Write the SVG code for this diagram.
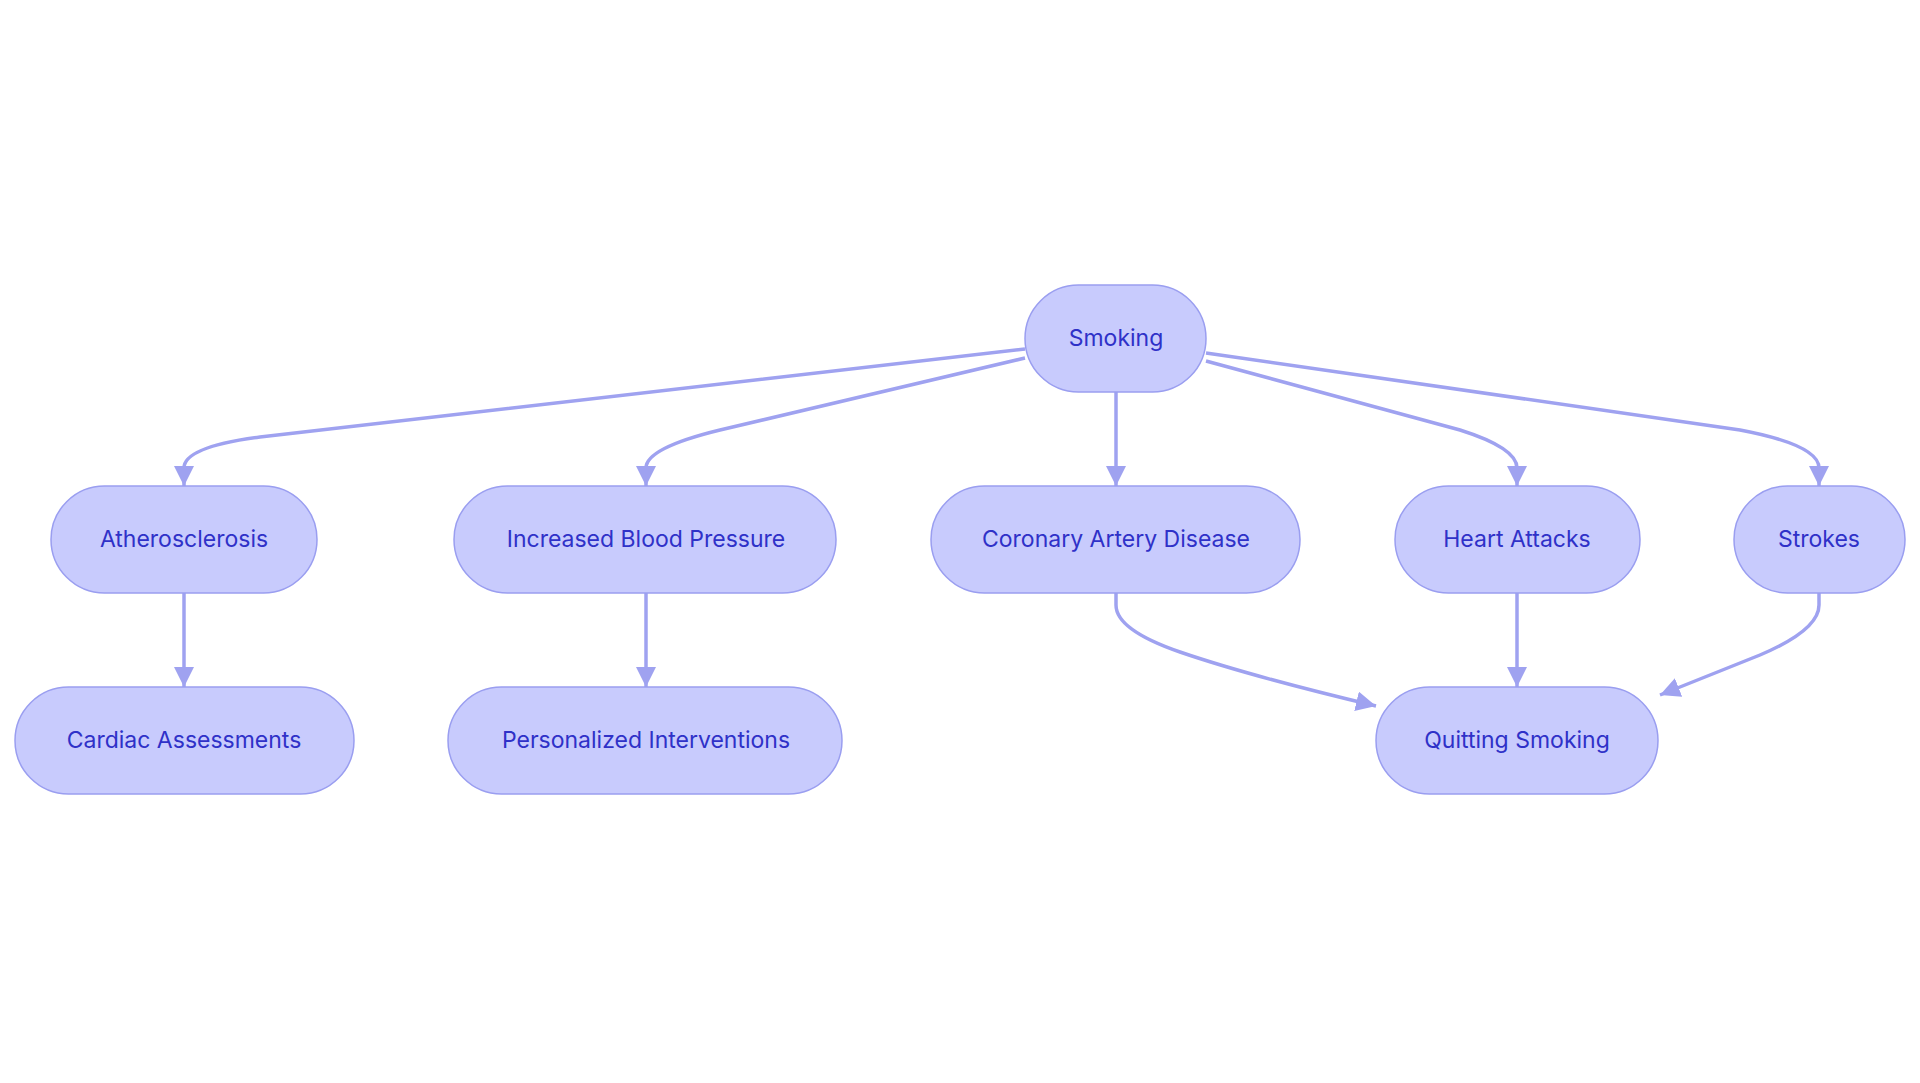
<svg xmlns="http://www.w3.org/2000/svg" width="1920" height="1083" viewBox="0 0 1920 1083">
<defs>
<marker id="ah" viewBox="0 0 10 10" refX="10" refY="5" markerWidth="20" markerHeight="20" markerUnits="userSpaceOnUse" orient="auto"><path d="M0,0 L10,5 L0,10 z" fill="#9fa2f0"/></marker>
<style>
.n rect{fill:#c8cbfd;stroke:#9a9ef0;stroke-width:1.5}
.n text{font-family:Inter,"Liberation Sans",sans-serif;font-size:23px;fill:#2f31c8;text-anchor:middle;dominant-baseline:central}
#edges path{fill:none;stroke:#9fa2f0;stroke-width:3.5;marker-end:url(#ah)}
</style>
</defs>
<rect width="1920" height="1083" fill="#fff"/>
<g id="edges">
<path d="M1025,349 L260,437 Q184,447 184,468 L184,486"/>
<path d="M1025,358 L720,430 Q646,448 646,468 L646,486"/>
<path d="M1116,392 L1116,486"/>
<path d="M1206,361 L1460,430 Q1517,448 1517,468 L1517,486"/>
<path d="M1206,353 L1740,430 Q1819,445 1819,468 L1819,486"/>
<path d="M184,593 L184,687"/>
<path d="M646,593 L646,687"/>
<path d="M1116,593 L1116,605 Q1116,630 1180,652 Q1250,676 1376,706"/>
<path d="M1517,593 L1517,687"/>
<path d="M1819,593 L1819,605 Q1819,630 1760,655 L1660,695"/>
</g>
<g id="smoking" class="n"><rect x="1025" y="285" width="181" height="107" rx="53.5"/><text x="1116" y="338">Smoking</text></g>
<g id="athero" class="n"><rect x="51" y="486" width="266" height="107" rx="53.5"/><text x="184" y="539">Atherosclerosis</text></g>
<g id="ibp" class="n"><rect x="454" y="486" width="382" height="107" rx="53.5"/><text x="646" y="539">Increased Blood Pressure</text></g>
<g id="cad" class="n"><rect x="931" y="486" width="369" height="107" rx="53.5"/><text x="1116" y="539">Coronary Artery Disease</text></g>
<g id="ha" class="n"><rect x="1395" y="486" width="245" height="107" rx="53.5"/><text x="1517" y="539">Heart Attacks</text></g>
<g id="strokes" class="n"><rect x="1734" y="486" width="171" height="107" rx="53.5"/><text x="1819" y="539">Strokes</text></g>
<g id="cardiac" class="n"><rect x="15" y="687" width="339" height="107" rx="53.5"/><text x="184" y="740">Cardiac Assessments</text></g>
<g id="pers" class="n"><rect x="448" y="687" width="394" height="107" rx="53.5"/><text x="646" y="740">Personalized Interventions</text></g>
<g id="quit" class="n"><rect x="1376" y="687" width="282" height="107" rx="53.5"/><text x="1517" y="740">Quitting Smoking</text></g>
</svg>
